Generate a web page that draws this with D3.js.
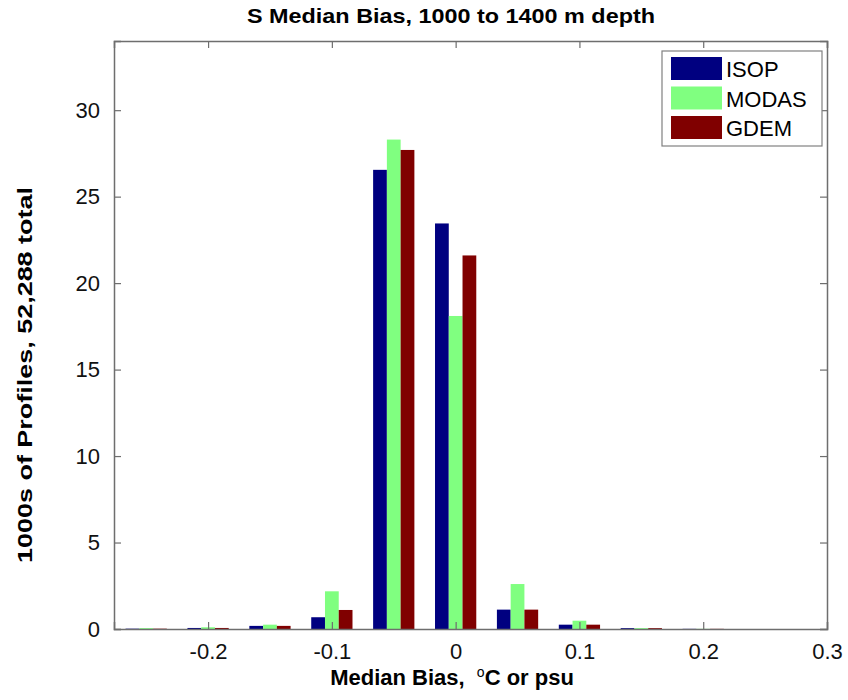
<!DOCTYPE html>
<html>
<head>
<meta charset="utf-8">
<script src="https://cdn.jsdelivr.net/npm/d3@7"></script>
<style>
  body { margin: 0; background: #fff; }
  svg { display: block; font-family: "Liberation Sans", Arial, sans-serif; }
  text { white-space: pre; }
</style>
</head>
<body>
<svg id="chart"></svg>
<script>
// bin centres (median bias) and counts in 1000s of profiles
var bins = [-0.25, -0.2, -0.15, -0.1, -0.05, 0, 0.05, 0.1, 0.15, 0.2, 0.25];
var isop  = [0.02, 0.06, 0.18, 0.68, 26.55, 23.45, 1.12, 0.25, 0.05, 0.01, 0];
var modas = [0.05, 0.10, 0.25, 2.18, 28.30, 18.10, 2.60, 0.48, 0.05, 0.01, 0];
var gdem  = [0.02, 0.06, 0.18, 1.10, 27.70, 21.60, 1.12, 0.25, 0.05, 0.01, 0];
var seriesNames = ["ISOP", "MODAS", "GDEM"];
var seriesColors = ["#000080", "#80ff80", "#800000"];
var xTicks = [-0.2, -0.1, 0, 0.1, 0.2, 0.3];
var yTicks = [0, 5, 10, 15, 20, 25, 30];

var W = 848, H = 700;
var margin = {top: 41, right: 21, bottom: 71, left: 114};
var width = W - margin.left - margin.right,
    height = H - margin.top - margin.bottom;

var svg = d3.select("#chart").attr("width", W).attr("height", H);

var x = d3.scaleLinear().domain([-0.276, 0.3]).range([0, width]);
var y = d3.scaleLinear().domain([0, 34]).range([height, 0]);

var g = svg.append("g")
    .attr("transform", "translate(" + margin.left + "," + margin.top + ")");

// bars, matlab grouped style
var binStep = 0.05;
var barW = binStep * (3 / 4.5) / 3;
var series = [isop, modas, gdem];

series.forEach(function(vals, si) {
    g.append("g").selectAll("rect")
        .data(bins)
        .enter().append("rect")
        .attr("x", function(d) { return x(d + (si - 1) * barW - barW / 2); })
        .attr("width", function(d) { return x(barW) - x(0); })
        .attr("y", function(d, i) { return y(vals[i]); })
        .attr("height", function(d, i) { return y(0) - y(vals[i]); })
        .attr("fill", seriesColors[si]);
});

var axisColor = "#6e6e6e";
var tickLen = 7;

// box + inward ticks
var fmt = function(d) { return d === 0 ? "0" : d3.format(".1f")(d).replace("\u2212", "-"); };
var xb = g.append("g").attr("transform", "translate(0," + height + ")")
    .call(d3.axisBottom(x).tickValues(xTicks).tickSize(-tickLen).tickPadding(14).tickFormat(fmt));
var xt = g.append("g")
    .call(d3.axisTop(x).tickValues(xTicks).tickSize(-tickLen).tickFormat(""));
var yl = g.append("g")
    .call(d3.axisLeft(y).tickValues(yTicks).tickSize(-tickLen).tickPadding(14));
var yr = g.append("g").attr("transform", "translate(" + width + ",0)")
    .call(d3.axisRight(y).tickValues(yTicks).tickSize(-tickLen).tickFormat(""));

[xb, xt, yl, yr].forEach(function(a) {
    a.select(".domain").attr("stroke", axisColor).attr("stroke-width", 1.5);
    a.selectAll(".tick line").attr("stroke", axisColor).attr("stroke-width", 1.2);
    a.selectAll("text").attr("fill", "#111").style("font-size", "22px");
});

// title and labels
svg.append("text")
    .attr("x", 451).attr("y", 23)
    .attr("text-anchor", "middle")
    .attr("textLength", 408).attr("lengthAdjust", "spacingAndGlyphs")
    .style("font-size", "21px").style("font-weight", "bold")
    .text("S Median Bias, 1000 to 1400 m depth");

var xl = svg.append("text")
    .attr("x", 452).attr("y", 685)
    .attr("text-anchor", "middle")
    .style("font-size", "22px").style("font-weight", "bold");
xl.append("tspan").text("Median Bias,  ");
xl.append("tspan").attr("dy", -8).style("font-size", "14px").style("font-weight", "normal").text("o");
xl.append("tspan").attr("dy", 8).text("C or psu");

svg.append("text")
    .attr("transform", "translate(32,375) rotate(-90)")
    .attr("text-anchor", "middle")
    .attr("textLength", 376).attr("lengthAdjust", "spacingAndGlyphs")
    .style("font-size", "21px").style("font-weight", "bold")
    .text("1000s of Profiles, 52,288 total");

// legend
var leg = svg.append("g").attr("transform", "translate(662,51)");
leg.append("rect")
    .attr("width", 160).attr("height", 95)
    .attr("fill", "#fff").attr("stroke", "#808080").attr("stroke-width", 1.2);
seriesNames.forEach(function(name, i) {
    leg.append("rect")
        .attr("x", 9).attr("y", 6 + i * 29.5)
        .attr("width", 51).attr("height", 23)
        .attr("fill", seriesColors[i]);
    leg.append("text")
        .attr("x", 64).attr("y", 26 + i * 29.5)
        .style("font-size", "22px")
        .text(name);
});
</script>
</body>
</html>
